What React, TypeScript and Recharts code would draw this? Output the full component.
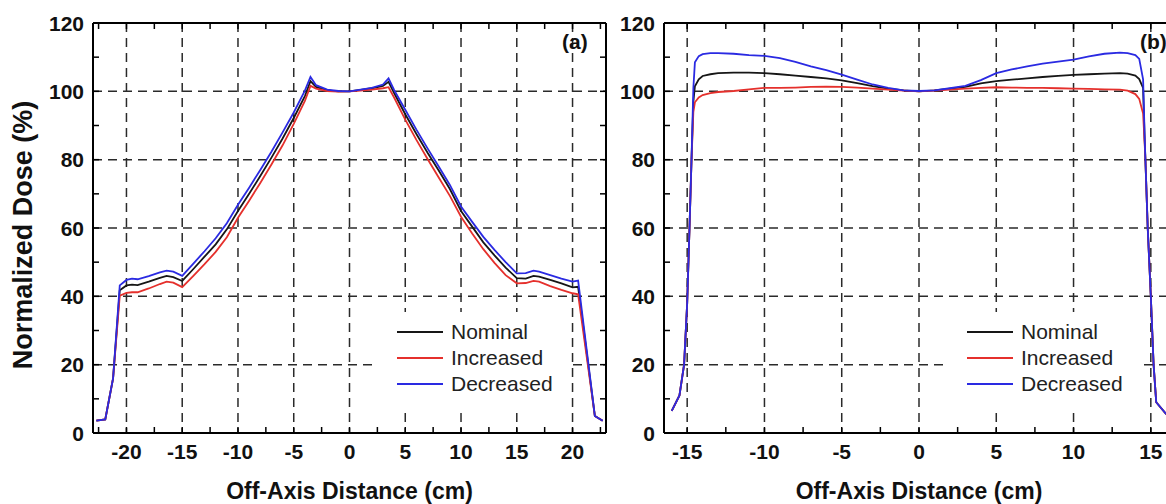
import { CartesianGrid, Line, LineChart, ReferenceLine, XAxis, YAxis } from "recharts"

// panel (a): off-axis profile, x in cm
const xA = [
  -22.7, -21.9, -21.2, -20.6, -20, -19.5, -19, -18, -17, -16.4, -15.8, -15, -14, -13, -12, -11, -10,
  -9, -8, -7, -6, -5, -4, -3.5, -3, -2, -1, 0, 1, 2, 3, 3.5, 4, 5, 6, 7, 8, 9, 10, 11, 12, 13, 14,
  15, 15.8, 16.5, 17, 18, 19, 20, 20.5, 22, 22.7,
]
const nominalA = [
  3.6, 4, 16, 41.8, 43.2, 43.4, 43.3, 44.3, 45.4, 46, 45.6, 44.5, 48, 51.6, 55.2, 59.6, 65, 70, 75.2,
  80.6, 86.2, 92.2, 98.6, 103, 101.3, 100.3, 100, 100, 100.4, 100.9, 101.6, 102.8, 99.5, 93.3, 87.5,
  82, 76.8, 71.4, 65, 60.4, 55.8, 52, 48.4, 45.3, 45.2, 46, 45.8, 44.8, 43.8, 42.6, 42.8, 5, 3.6,
]
const increasedA = [
  3.6, 4, 16, 40.2, 41, 41.2, 41.2, 42.3, 43.6, 44.3, 44, 42.7, 46, 49.4, 53, 57.3, 63, 68, 73.2,
  78.6, 84.2, 90.5, 97.2, 101.6, 100.8, 100.1, 99.9, 100, 100.2, 100.5, 100.9, 101.2, 98.2, 91.7,
  85.8, 80.2, 74.8, 69.4, 63.3, 58.4, 53.8, 49.8, 46.2, 43.8, 43.9, 44.5, 44.3, 43, 41.9, 40.9, 40.6,
  5, 3.6,
]
const decreasedA = [
  3.6, 4, 16, 43.2, 44.8, 45.2, 45, 45.9, 47, 47.5, 47.2, 46, 49.6, 53.2, 57, 61.4, 66.8, 71.8, 77,
  82.3, 88, 93.8, 100.2, 104.2, 101.8, 100.5, 100.1, 100, 100.5, 101, 102, 103.8, 100.4, 94.6, 88.8,
  83.3, 78, 72.6, 66.3, 61.8, 57.4, 53.6, 50, 46.7, 46.8, 47.5, 47.2, 46.2, 45.2, 44.3, 44.6, 5, 3.6,
]

// panel (b)
const xB = [
  -16, -15.5, -15.2, -15, -14.85, -14.72, -14.6, -14.5, -14.25, -14, -13.5, -13, -12, -11, -10, -9,
  -8, -7, -6, -5, -4, -3, -2, -1, 0, 1, 2, 3, 4, 5, 6, 7, 8, 9, 10, 11, 12, 13, 13.5, 14, 14.25, 14.5,
  14.6, 14.65, 14.8, 15, 15.18, 15.35, 16,
]
const nominalB = [
  6.5, 11, 20, 38, 60, 80, 97, 101.5, 103.5, 104.5, 105, 105.3, 105.5, 105.5, 105.3, 105, 104.6,
  104.2, 103.8, 103.2, 102.4, 101.5, 100.8, 100.3, 100, 100.3, 100.8, 101.3, 102.3, 103, 103.4,
  103.8, 104.2, 104.5, 104.8, 105, 105.2, 105.3, 105.2, 104.6, 103.6, 101, 86, 80, 60, 40, 20, 9,
  5.5,
]
const increasedB = [
  6.5, 11, 20, 38, 60, 80, 94, 96.8, 98.2, 98.9, 99.5, 99.8, 100.1, 100.6, 101, 101, 101.1, 101.3,
  101.4, 101.3, 101.1, 100.8, 100.5, 100.2, 100, 100.2, 100.5, 100.8, 101, 101.2, 101.1, 101, 101,
  100.9, 100.8, 100.7, 100.6, 100.5, 100.2, 99.2, 97.8, 93.5, 85, 80, 60, 40, 20, 9, 5.5,
]
const decreasedB = [
  6.5, 11, 20, 38, 60, 80, 101, 108.5, 110.3, 110.9, 111.2, 111.2, 111, 110.6, 110.4, 109.7, 108.6,
  107.3, 106.2, 104.9, 103.4, 102, 101, 100.3, 100.1, 100.3, 100.9, 101.6, 103.3, 105.3, 106.4,
  107.3, 108.1, 108.7, 109.3, 110.2, 111, 111.3, 111.2, 110.6, 109.5, 103.5, 87, 80, 60, 40, 20, 9,
  5.5,
]

const yTicks = [0, 20, 40, 60, 80, 100, 120]
const yMinorTicks = [0, 10, 20, 30, 40, 50, 60, 70, 80, 90, 100, 110, 120]
const xTicksA = [-20, -15, -10, -5, 0, 5, 10, 15, 20]
const xMinorA = [
  -22.5, -20, -17.5, -15, -12.5, -10, -7.5, -5, -2.5, 0, 2.5, 5, 7.5, 10, 12.5, 15, 17.5, 20, 22.5,
]
const xTicksB = [-15, -10, -5, 0, 5, 10, 15]
const xMinorB = [-15, -12.5, -10, -7.5, -5, -2.5, 0, 2.5, 5, 7.5, 10, 12.5, 15]

const seriesKeys = ["nominal", "increased", "decreased"]
const seriesNames = ["Nominal", "Increased", "Decreased"]
const seriesColors = ["#161616", "#e5302c", "#2a2ae2"]

const font = "Arial, 'Liberation Sans', Helvetica, sans-serif"

const rowsA = xA.map((x, i) => ({
  x,
  nominal: nominalA[i],
  increased: increasedA[i],
  decreased: decreasedA[i],
}))
const rowsB = xB.map((x, i) => ({
  x,
  nominal: nominalB[i],
  increased: increasedB[i],
  decreased: decreasedB[i],
}))

const TICK_MARGIN_X = 11
const TICK_MARGIN_Y = 9
const MINOR = 6
const PLOT_TOP = 23
const PLOT_H = 410

// inward tick marks on bottom + top, labels only on the major ones
function XTick({ x, y, payload, labels }: any) {
  const axisY = y - TICK_MARGIN_X
  const topY = axisY - PLOT_H
  const v = payload.value
  return (
    <g>
      <line x1={x} x2={x} y1={axisY} y2={axisY - MINOR} stroke="#000" strokeWidth={1.5} />
      <line x1={x} x2={x} y1={topY} y2={topY + MINOR} stroke="#000" strokeWidth={1.5} />
      {labels.includes(v) && (
        <text
          x={x}
          y={y}
          dy="0.71em"
          textAnchor="middle"
          fill="#111"
          fontSize={21}
          fontWeight={700}
          fontFamily={font}
        >
          {v}
        </text>
      )}
    </g>
  )
}

function YTick({ x, y, payload, plotW }: any) {
  const axisX = x + TICK_MARGIN_Y
  const rightX = axisX + plotW
  const v = payload.value
  return (
    <g>
      <line x1={axisX} x2={axisX + MINOR} y1={y} y2={y} stroke="#000" strokeWidth={1.5} />
      <line x1={rightX} x2={rightX - MINOR} y1={y} y2={y} stroke="#000" strokeWidth={1.5} />
      {yTicks.includes(v) && (
        <text
          x={x}
          y={y}
          dy="0.36em"
          textAnchor="end"
          fill="#111"
          fontSize={21}
          fontWeight={700}
          fontFamily={font}
        >
          {v}
        </text>
      )}
    </g>
  )
}

function YTitle({ viewBox }: any) {
  const cx = viewBox.x + 23
  const cy = viewBox.y + viewBox.height / 2 + 7
  return (
    <text
      x={cx}
      y={cy}
      transform={`rotate(-90 ${cx} ${cy})`}
      textAnchor="middle"
      dominantBaseline="central"
      fontSize={27}
      fontWeight={700}
      fill="#111"
      fontFamily={font}
    >
      Normalized Dose (%)
    </text>
  )
}

interface PanelProps {
  rows: any[]
  domain: [number, number]
  xTicks: number[]
  xMinor: number[]
  left: number
  width: number
  yWidth: number
  right: number
  yTitle?: boolean
}

function Panel({ rows, domain, xTicks, xMinor, left, width, yWidth, right, yTitle }: PanelProps) {
  const plotW = width - yWidth - right
  const vGen = ({ xAxis, offset }: any) =>
    xTicks.map((v) =>
      xAxis && typeof xAxis.scale === "function"
        ? xAxis.scale(v)
        : offset.left + ((v - domain[0]) / (domain[1] - domain[0])) * offset.width,
    )
  const hGen = ({ yAxis, offset }: any) =>
    yTicks.map((v) =>
      yAxis && typeof yAxis.scale === "function"
        ? yAxis.scale(v)
        : offset.top + (1 - v / 120) * offset.height,
    )
  return (
    <div style={{ position: "absolute", left, top: 0 }}>
      <LineChart
        width={width}
        height={504}
        data={rows}
        margin={{ top: PLOT_TOP, right, bottom: 0, left: 0 }}
        style={{ fontFamily: font }}
      >
        <CartesianGrid
          stroke="#2a2a2a"
          strokeWidth={1.5}
          strokeDasharray="9 6"
          verticalCoordinatesGenerator={vGen}
          horizontalCoordinatesGenerator={hGen}
        />
        <XAxis
          dataKey="x"
          type="number"
          domain={domain}
          allowDataOverflow
          ticks={xMinor}
          interval={0}
          height={504 - PLOT_TOP - PLOT_H}
          tickLine={false}
          tickSize={0}
          tickMargin={TICK_MARGIN_X}
          axisLine={{ stroke: "#000", strokeWidth: 2 }}
          tick={(p: any) => <XTick {...p} labels={xTicks} />}
          label={{
            value: "Off-Axis Distance (cm)",
            position: "insideBottom",
            offset: 5,
            fontSize: 23,
            fontWeight: 700,
            fill: "#111",
          }}
        />
        <YAxis
          type="number"
          domain={[0, 120]}
          allowDataOverflow
          ticks={yMinorTicks}
          interval={0}
          width={yWidth}
          tickLine={false}
          tickSize={0}
          tickMargin={TICK_MARGIN_Y}
          axisLine={{ stroke: "#000", strokeWidth: 2 }}
          tick={(p: any) => <YTick {...p} plotW={plotW} />}
          label={yTitle ? { content: (p: any) => <YTitle {...p} /> } : undefined}
        />
        <ReferenceLine y={120} stroke="#000" strokeWidth={2} />
        <ReferenceLine x={domain[1]} stroke="#000" strokeWidth={2} />
        {seriesKeys.map((k, i) => (
          <Line
            key={k}
            type="linear"
            dataKey={k}
            name={seriesNames[i]}
            stroke={seriesColors[i]}
            strokeWidth={1.8}
            dot={false}
            isAnimationActive={false}
          />
        ))}
      </LineChart>
    </div>
  )
}

function LegendBox({ left, top }: { left: number; top: number }) {
  return (
    <div
      style={{
        position: "absolute",
        left,
        top,
        width: 190,
        boxSizing: "border-box",
        padding: "7px 0 12px 19px",
        background: "#fff",
        fontFamily: font,
      }}
    >
      {seriesNames.map((n, i) => (
        <div key={n} style={{ display: "flex", alignItems: "center", height: 26 }}>
          <div style={{ width: 46, height: 2, background: seriesColors[i], marginRight: 8 }} />
          <span style={{ fontSize: 21, color: "#222", lineHeight: "26px" }}>{n}</span>
        </div>
      ))}
    </div>
  )
}

function Tag({ left, text }: { left: number; text: string }) {
  return (
    <div
      style={{
        position: "absolute",
        left,
        top: 30,
        fontFamily: font,
        fontSize: 21,
        fontWeight: 700,
        lineHeight: "24px",
        color: "#111",
      }}
    >
      {text}
    </div>
  )
}

export default function App() {
  return (
    <div
      style={{
        position: "absolute",
        left: 0,
        top: 0,
        width: 1166,
        height: 504,
        overflow: "hidden",
        background: "#fff",
      }}
    >
      <Panel
        rows={rowsA}
        domain={[-23, 23]}
        xTicks={xTicksA}
        xMinor={xMinorA}
        left={0}
        width={620}
        yWidth={93}
        right={14}
        yTitle
      />
      <Panel
        rows={rowsB}
        domain={[-16.5, 16.5]}
        xTicks={xTicksB}
        xMinor={xMinorB}
        left={590}
        width={600}
        yWidth={74}
        right={16}
      />
      <LegendBox left={378} top={312} />
      <LegendBox left={948} top={312} />
      <Tag left={562} text="(a)" />
      <Tag left={1140} text="(b)" />
    </div>
  )
}
